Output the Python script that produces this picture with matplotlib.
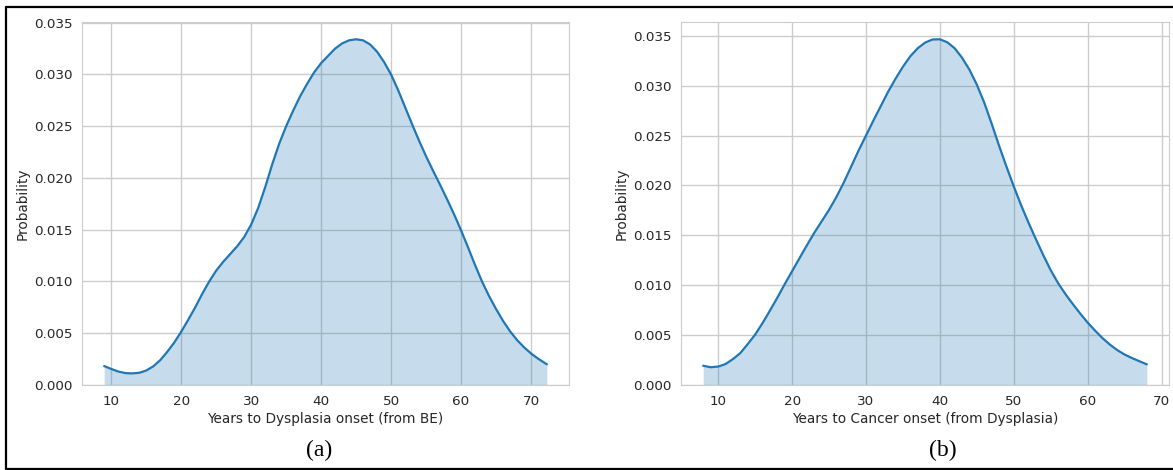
import matplotlib
matplotlib.use("Agg")
import matplotlib.pyplot as plt
import seaborn as sns
from matplotlib.lines import Line2D

# ---- data ----
years_a = [8.98, 10, 11, 12, 13, 14, 15, 16, 17, 18, 19, 20, 21, 22, 23, 24, 25, 26,
           27, 28, 29, 30, 31, 32, 33, 34, 35, 36, 37, 38, 39, 40, 41, 42, 43, 44,
           45, 46, 47, 48, 49, 50, 51, 52, 53, 54, 55, 56, 57, 58, 59, 60, 61, 62,
           63, 64, 65, 66, 67, 68, 69, 70, 71, 72.27]
prob_a = [0.00183, 0.00155, 0.00130, 0.00115, 0.00112, 0.00118, 0.00140, 0.00180,
          0.00240, 0.00320, 0.00410, 0.00515, 0.00630, 0.00750, 0.00880, 0.01000,
          0.01105, 0.01190, 0.01265, 0.01340, 0.01430, 0.01550, 0.01710, 0.01910,
          0.02130, 0.02330, 0.02500, 0.02650, 0.02790, 0.02910, 0.03020, 0.03110,
          0.03180, 0.03250, 0.03300, 0.03330, 0.03340, 0.03330, 0.03290, 0.03220,
          0.03120, 0.03000, 0.02850, 0.02685, 0.02520, 0.02360, 0.02210, 0.02070,
          0.01935, 0.01795, 0.01650, 0.01495, 0.01330, 0.01160, 0.01000, 0.00860,
          0.00735, 0.00620, 0.00520, 0.00435, 0.00365, 0.00305, 0.00255, 0.00200]

years_b = [7.97, 9, 10, 11, 12, 13, 14, 15, 16, 17, 18, 19, 20, 21, 22, 23, 24, 25,
           26, 27, 28, 29, 30, 31, 32, 33, 34, 35, 36, 37, 38, 39, 40, 41, 42, 43,
           44, 45, 46, 47, 48, 49, 50, 51, 52, 53, 54, 55, 56, 57, 58, 59, 60, 61,
           62, 63, 64, 65, 66, 67, 68]
prob_b = [0.00193, 0.00178, 0.00185, 0.00210, 0.00260, 0.00320, 0.00410, 0.00505,
          0.00620, 0.00745, 0.00875, 0.01010, 0.01140, 0.01270, 0.01400, 0.01525,
          0.01640, 0.01755, 0.01885, 0.02030, 0.02190, 0.02350, 0.02500, 0.02650,
          0.02795, 0.02940, 0.03070, 0.03190, 0.03295, 0.03375, 0.03432, 0.03463,
          0.03465, 0.03435, 0.03375, 0.03280, 0.03160, 0.03010, 0.02830, 0.02620,
          0.02400, 0.02190, 0.01990, 0.01800, 0.01625, 0.01460, 0.01300, 0.01150,
          0.01020, 0.00910, 0.00810, 0.00715, 0.00625, 0.00545, 0.00470, 0.00405,
          0.00350, 0.00305, 0.00270, 0.00238, 0.00207]

xlabels = ["Years to Dysplasia onset (from BE)", "Years to Cancer onset (from Dysplasia)"]
ylabel = "Probability"
captions = ["(a)", "(b)"]
xticks = [10, 20, 30, 40, 50, 60, 70]
yticks = [0.000, 0.005, 0.010, 0.015, 0.020, 0.025, 0.030, 0.035]

sns.set_style("whitegrid")
plt.rcParams["font.family"] = ["DejaVu Sans"]

W, H = 1173, 470
fig = plt.figure(figsize=(W / 100, H / 100), dpi=100)

boxes = [(82, 569), (681, 1169)]
top_px, bot_px = 22, 385
color = "#1f77b4"
series = [(years_a, prob_a), (years_b, prob_b)]
cap_x = [319, 943]

for i, ((l, r), (xs, ys)) in enumerate(zip(boxes, series)):
    ax = fig.add_axes([l / W, 1 - bot_px / H, (r - l) / W, (bot_px - top_px) / H])
    ax.plot(xs, ys, color=color, lw=1.6, solid_joinstyle="round")
    ax.fill_between(xs, 0, ys, color=color, alpha=0.25, lw=0)
    span = xs[-1] - xs[0]
    ax.set_xlim(xs[0] - 0.05 * span, xs[-1] + 0.05 * span)
    ax.set_ylim(0, max(ys) * 1.05)
    ax.set_xticks(xticks)
    ax.set_yticks(yticks)
    ax.set_yticklabels([f"{v:.3f}" for v in yticks])
    ax.tick_params(labelsize=9.7, colors="#262626", pad=7, length=0)
    ax.set_xlabel(xlabels[i], fontsize=9.8, color="#262626", labelpad=3)
    ax.set_ylabel(ylabel, fontsize=9.8, color="#262626", labelpad=3)
    for s in ax.spines.values():
        s.set_color("#cccccc")
    ax.grid(True, color="#cccccc", lw=1)
    fig.text(cap_x[i] / W, 1 - 450 / H, captions[i], ha="center", va="center",
             fontsize=17, family="Liberation Serif", color="black")

# black frame around the figure
lw = 1.6
fig.add_artist(Line2D([6 / W, 6 / W], [1 - 6.8 / H, 1 - 468.8 / H], color="black", lw=lw, transform=fig.transFigure))
fig.add_artist(Line2D([6 / W, 1.0], [1 - 6.8 / H, 1 - 6.8 / H], color="black", lw=lw, transform=fig.transFigure))
fig.add_artist(Line2D([6 / W, 1.0], [1 - 468.8 / H, 1 - 468.8 / H], color="black", lw=lw, transform=fig.transFigure))

fig.savefig("out.png", dpi=100)
